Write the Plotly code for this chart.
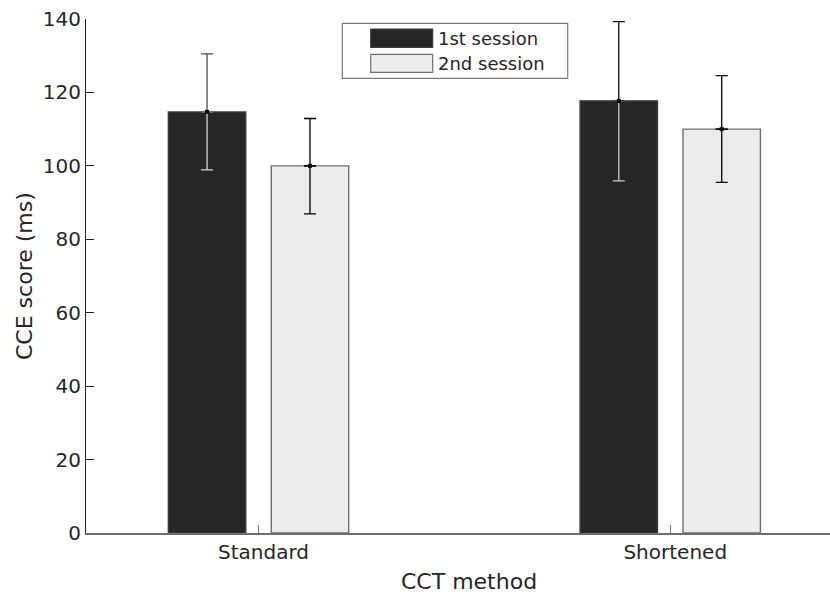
import numpy as np
import plotly.graph_objects as go

# ---- data ----
categories = ["Standard", "Shortened"]
sessions = ["1st session", "2nd session"]
means = [[114.7, 117.7],   # 1st session
         [100.0, 110.0]]   # 2nd session
err_upper = [[130.5, 139.3],
             [112.9, 124.6]]
err_lower = [[98.9, 95.9],
             [86.9, 95.5]]
y_ticks = [0, 20, 40, 60, 80, 100, 120, 140]

# ---- style ----
fills = ["#262626", "#ececec"]
edges = ["#3c3c3c", "#707070"]
up_colors = [["#4a4a4a", "#111111"], ["#000000", "#000000"]]
low_colors = [["#d2d2d2", "#cfcfcf"], ["#000000", "#000000"]]
FONT = "DejaVu Sans"
TXT = "#262626"

W, H = 830, 596
L, R, T, B = 86, 0, 19, 63
PW, PH = W - L - R, H - T - B

pos = np.arange(len(categories))
bargap, groupgap = 0.5, 0.248
slot = (1 - bargap) / len(sessions)

fig = go.Figure()
for s, name in enumerate(sessions):
    fig.add_trace(go.Bar(x=pos, y=means[s], name=name, showlegend=False,
                         marker=dict(color=fills[s], line=dict(color=edges[s], width=1.4))))

for s in range(len(sessions)):
    for i in range(len(categories)):
        xc = pos[i] + (s - (len(sessions) - 1) / 2) * slot
        m = means[s][i]
        # lower part
        fig.add_trace(go.Scatter(x=[xc], y=[m], mode="markers", showlegend=False,
                                 marker=dict(size=1, color=low_colors[s][i]),
                                 error_y=dict(type="data", symmetric=False, array=[0],
                                              arrayminus=[m - err_lower[s][i]],
                                              color=low_colors[s][i], thickness=1.3, width=6)))
        # upper part
        fig.add_trace(go.Scatter(x=[xc], y=[m], mode="markers", showlegend=False,
                                 marker=dict(size=4, symbol="square", color="#000000"),
                                 error_y=dict(type="data", symmetric=False, array=[err_upper[s][i] - m],
                                              arrayminus=[0],
                                              color=up_colors[s][i], thickness=1.3, width=6)))

def px(xp):
    return (xp - L) / PW

def py(yp):
    return (H - B - yp) / PH

shapes = []
annotations = []
# legend box
shapes.append(dict(type="rect", xref="paper", yref="paper", x0=px(342.3), x1=px(567.7),
                   y0=py(78.3), y1=py(23.3), line=dict(color="#7a7a7a", width=1.2),
                   fillcolor="white", layer="above"))
sw_y = [(29, 47.3), (54.3, 72.3)]
for s, name in enumerate(sessions):
    y0, y1 = sw_y[s]
    shapes.append(dict(type="rect", xref="paper", yref="paper", x0=px(370.7), x1=px(432.7),
                       y0=py(y1), y1=py(y0), line=dict(color=edges[s], width=1.2),
                       fillcolor=fills[s], layer="above"))
    annotations.append(dict(text=name, xref="paper", yref="paper", x=px(436), y=py((y0 + y1) / 2),
                            xanchor="left", yanchor="middle", showarrow=False,
                            font=dict(family=FONT, size=18, color=TXT)))

annotations.append(dict(text="CCT method", xref="paper", yref="paper", x=px(469), y=py(595),
                        xanchor="center", yanchor="bottom", showarrow=False, borderpad=0,
                        font=dict(family=FONT, size=22, color=TXT)))
annotations.append(dict(text="CCE score (ms)", xref="paper", yref="paper", x=px(24), y=py(276),
                        xanchor="center", yanchor="middle", showarrow=False, textangle=-90,
                        font=dict(family=FONT, size=22, color=TXT)))

fig.update_layout(
    width=W, height=H, margin=dict(l=L, r=R, t=T, b=B),
    paper_bgcolor="white", plot_bgcolor="white",
    barmode="group", bargap=bargap, bargroupgap=groupgap,
    showlegend=False, shapes=shapes, annotations=annotations,
    font=dict(family=FONT, size=20, color=TXT),
)
fig.update_xaxes(range=[-0.419, 1.388], tickvals=pos, ticktext=categories,
                 showline=True, linecolor="#6e6e6e", linewidth=1.6,
                 ticks="inside", ticklen=8, tickcolor="#777777", tickwidth=1.2,
                 showgrid=False, zeroline=False, ticklabelshift=5,
                 tickfont=dict(family=FONT, size=20, color=TXT))
fig.update_yaxes(range=[0, 140], tickvals=y_ticks,
                 showline=True, linecolor="#262626", linewidth=1.2,
                 ticks="inside", ticklen=8, tickcolor="#262626", tickwidth=1.2,
                 showgrid=False, zeroline=False,
                 tickfont=dict(family=FONT, size=20, color=TXT))

fig.write_html("out.html")
